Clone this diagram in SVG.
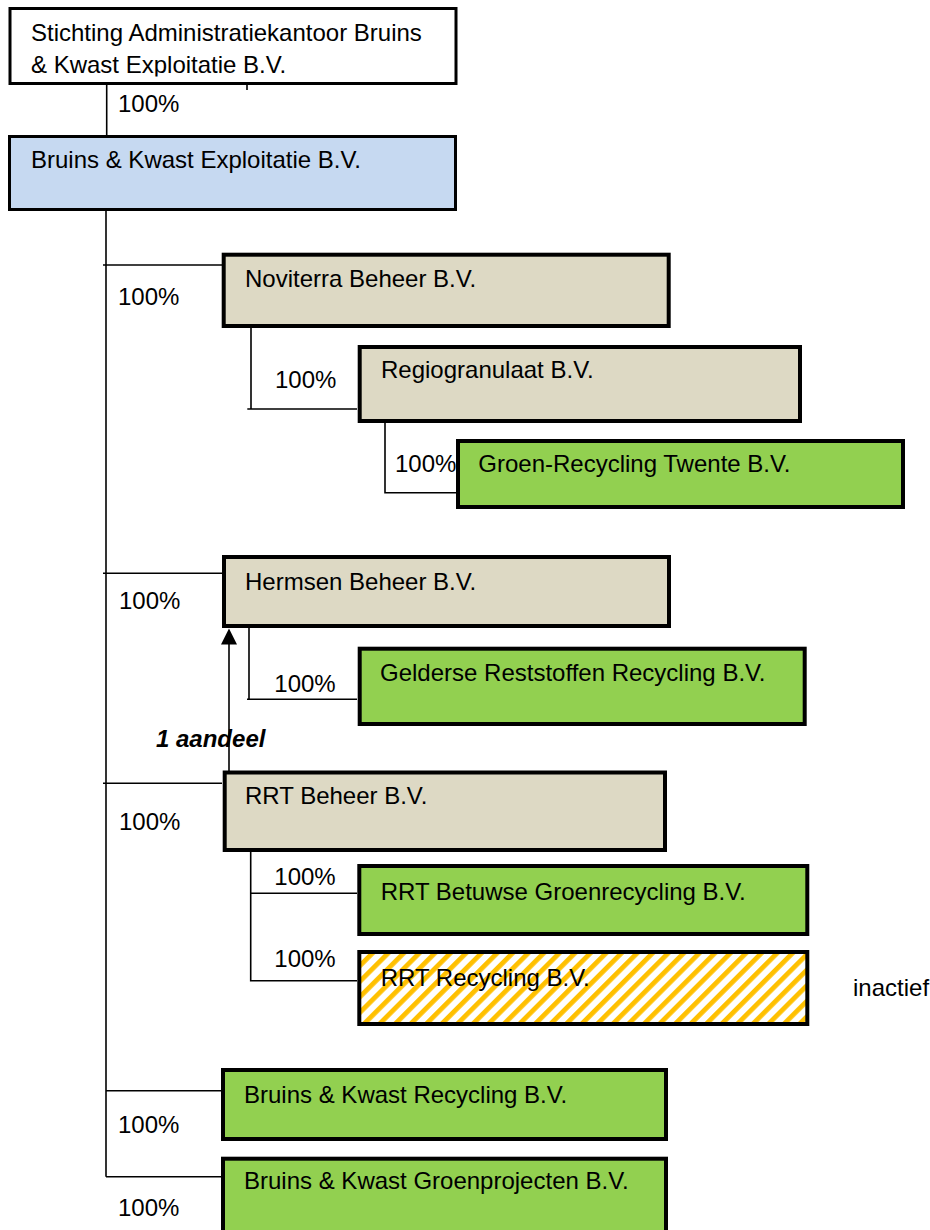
<svg xmlns="http://www.w3.org/2000/svg" width="930" height="1230" viewBox="0 0 930 1230">
  <style>
    text { font-family: "Liberation Sans", Arial, sans-serif; font-size: 24px; fill: #000; }
    .box { stroke: #000; stroke-width: 4; }
    .top { stroke: #000; stroke-width: 3; }
    .white { fill: #ffffff; }
    .blue { fill: #c6d9f1; }
    .tan { fill: #ddd9c4; }
    .green { fill: #92d050; }
    .hatch { fill: url(#stripes); }
    .conn line, .conn path { stroke: #000; stroke-width: 1.6; fill: none; }
    .bi { font-weight: bold; font-style: italic; }
  </style>
  <defs>
    <pattern id="stripes" patternUnits="userSpaceOnUse" width="11" height="11" patternTransform="rotate(45)">
      <rect x="0" y="0" width="11" height="11" fill="#ffffff"/>
      <rect x="0" y="0" width="4.8" height="11" fill="#ffc000"/>
    </pattern>
    <clipPath id="clipTop">
      <rect x="10" y="9" width="446" height="67.5"/>
    </clipPath>
  </defs>
  <rect x="0" y="0" width="930" height="1230" fill="#ffffff"/>

  <g id="connectors" class="conn">
    <line x1="106.7" y1="85" x2="106.7" y2="136"/>
    <line x1="247" y1="85" x2="247" y2="90"/>
    <line x1="106" y1="210" x2="106" y2="1176.7"/>
    <line x1="103" y1="265" x2="222" y2="265"/>
    <path d="M251 327 V409 M247.3 409 H357"/>
    <path d="M385 423 V492.7 H456"/>
    <line x1="103" y1="573.3" x2="222" y2="573.3"/>
    <path d="M249 627 V699.3 M247 699.3 H357"/>
    <line x1="103" y1="783.3" x2="222" y2="783.3"/>
    <path d="M250.7 851 V980.7 H357 M250.7 893.3 H357"/>
    <line x1="106" y1="1090.7" x2="222" y2="1090.7"/>
    <line x1="106" y1="1176.7" x2="222" y2="1176.7"/>
    <line x1="229" y1="771" x2="229" y2="642"/>
    <polygon points="221,644.5 237,644.5 229,628.5" fill="#000"/>
  </g>

  <g id="node-stichting">
    <rect class="top white" x="10" y="8.5" width="446" height="75"/>
    <g clip-path="url(#clipTop)">
      <text x="31" y="40.7">Stichting Administratiekantoor Bruins</text>
      <text x="31" y="73.3">&amp; Kwast Exploitatie B.V.</text>
    </g>
  </g>
  <text x="118" y="111.5">100%</text>

  <g id="node-exploitatie">
    <rect class="top blue" x="9.5" y="136.5" width="446" height="73"/>
    <text x="31" y="168.3">Bruins &amp; Kwast Exploitatie B.V.</text>
  </g>

  <g id="node-noviterra">
    <rect class="box tan" x="223.7" y="254.7" width="445" height="71.3"/>
    <text x="245" y="286.7">Noviterra Beheer B.V.</text>
  </g>
  <text x="118" y="305">100%</text>

  <g id="node-regiogranulaat">
    <rect class="box tan" x="359.7" y="347" width="440.3" height="74"/>
    <text x="381" y="378.3">Regiogranulaat B.V.</text>
  </g>
  <text x="275" y="388.3">100%</text>

  <g id="node-groen-recycling">
    <rect class="box green" x="458" y="441" width="445" height="66"/>
    <text x="478.3" y="472.3">Groen-Recycling Twente B.V.</text>
  </g>
  <text x="395" y="472.3">100%</text>

  <g id="node-hermsen">
    <rect class="box tan" x="224" y="557" width="445" height="69"/>
    <text x="245" y="590">Hermsen Beheer B.V.</text>
  </g>
  <text x="119" y="609">100%</text>

  <g id="node-gelderse">
    <rect class="box green" x="359.7" y="648.7" width="445" height="75.3"/>
    <text x="380" y="680.7">Gelderse Reststoffen Recycling B.V.</text>
  </g>
  <text x="274.3" y="691.7">100%</text>

  <text class="bi" x="156" y="746.7">1 aandeel</text>

  <g id="node-rrt-beheer">
    <rect class="box tan" x="224.7" y="772.5" width="440.3" height="77.5"/>
    <text x="245" y="804.3">RRT Beheer B.V.</text>
  </g>
  <text x="119" y="830">100%</text>

  <g id="node-rrt-betuwse">
    <rect class="box green" x="359.3" y="866" width="448" height="68"/>
    <text x="380.7" y="900">RRT Betuwse Groenrecycling B.V.</text>
  </g>
  <text x="274.3" y="885">100%</text>

  <g id="node-rrt-recycling">
    <rect class="box hatch" x="359.3" y="952" width="448" height="72"/>
    <text x="380.7" y="986">RRT Recycling B.V.</text>
  </g>
  <text x="274.3" y="967">100%</text>
  <text x="853" y="996">inactief</text>

  <g id="node-bk-recycling">
    <rect class="box green" x="223" y="1070" width="443" height="69"/>
    <text x="244" y="1102.7">Bruins &amp; Kwast Recycling B.V.</text>
  </g>
  <text x="118" y="1132.7">100%</text>

  <g id="node-bk-groenprojecten">
    <rect class="box green" x="223" y="1158.7" width="443" height="90"/>
    <text x="244" y="1189">Bruins &amp; Kwast Groenprojecten B.V.</text>
  </g>
  <text x="118" y="1216">100%</text>
</svg>
